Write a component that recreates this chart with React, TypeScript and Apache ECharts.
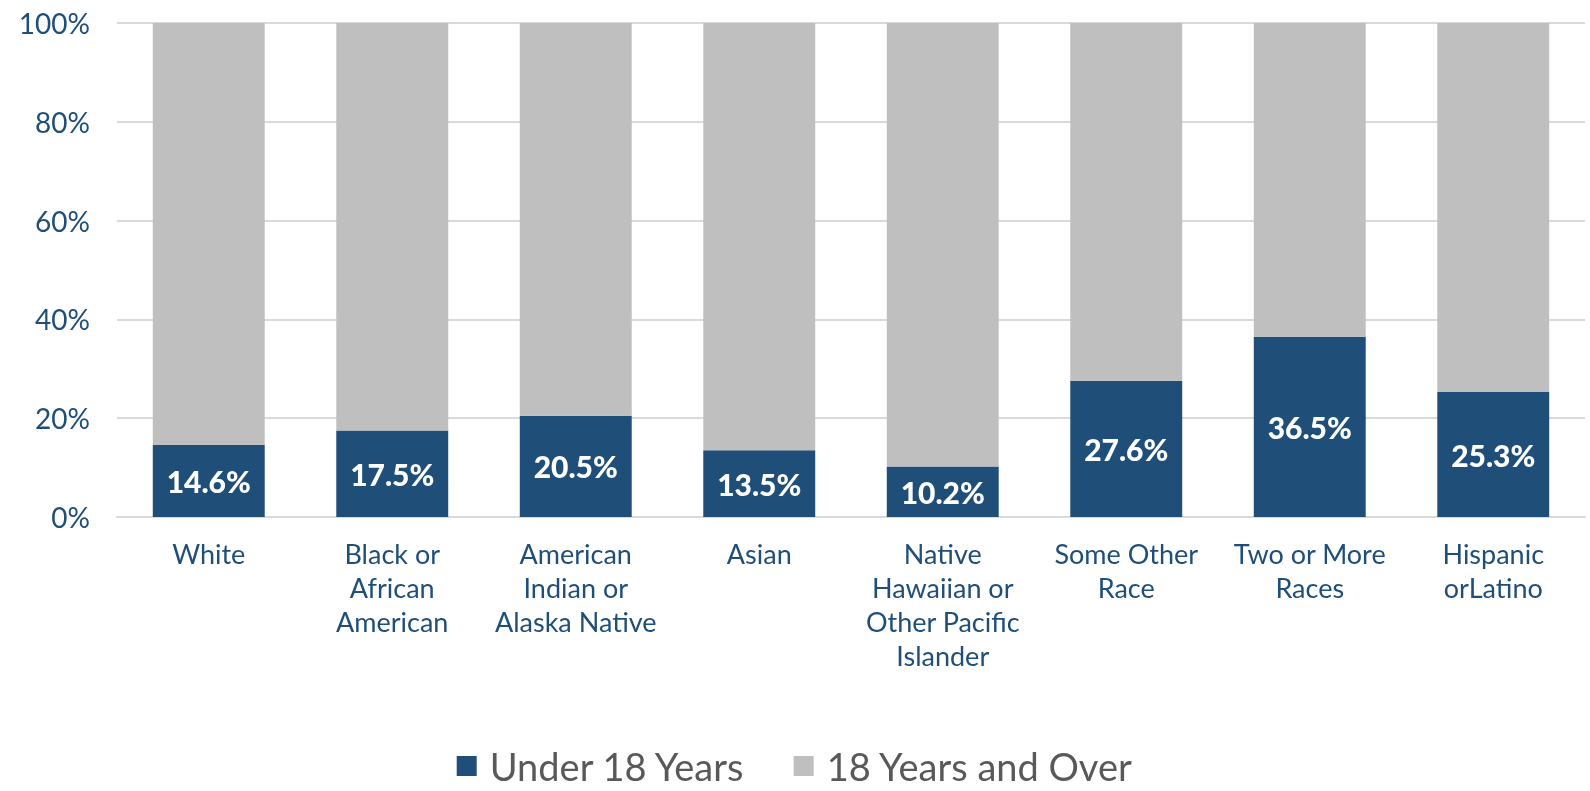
import React, { useEffect, useRef } from "react";
import * as echarts from "echarts";

const categories = [
  "White",
  "Black or\nAfrican\nAmerican",
  "American\nIndian or\nAlaska Native",
  "Asian",
  "Native\nHawaiian or\nOther Pacific\nIslander",
  "Some Other\nRace",
  "Two or More\nRaces",
  "Hispanic\norLatino",
];
const under18 = [14.6, 17.5, 20.5, 13.5, 10.2, 27.6, 36.5, 25.3];
const over18 = [85.4, 82.5, 79.5, 86.5, 89.8, 72.4, 63.5, 74.7];
const seriesNames = ["Under 18 Years", "18 Years and Over"];

const FONT = "Lato, 'Open Sans', sans-serif";

export default function App() {
  const ref = useRef<HTMLDivElement>(null);
  useEffect(() => {
    if (!ref.current) return;
    const chart = echarts.init(ref.current, undefined, { renderer: "svg" });
    chart.setOption({
      animation: false,
      textStyle: { fontFamily: FONT },
      grid: { left: 117, right: 5, top: 23, bottom: 274, containLabel: false },
      legend: {
        top: 747,
        left: "center",
        itemWidth: 20,
        itemHeight: 20,
        itemGap: 48,
        icon: "rect",
        padding: 0,
        textStyle: {
          fontSize: 38,
          lineHeight: 38,
          color: "#595959",
          fontFamily: FONT,
          padding: [0, 0, 0, 8],
        },
        data: seriesNames,
      },
      xAxis: {
        type: "category",
        data: categories,
        axisLine: { lineStyle: { color: "#D9D9D9", width: 2 } },
        axisTick: { show: false },
        axisLabel: {
          interval: 0,
          color: "#1F4E79",
          fontSize: 27,
          lineHeight: 34,
          margin: 19,
          fontFamily: FONT,
        },
      },
      yAxis: {
        type: "value",
        min: 0,
        max: 100,
        interval: 20,
        axisLine: { show: false },
        axisTick: { show: false },
        splitLine: { lineStyle: { color: "#D9D9D9", width: 2 } },
        axisLabel: {
          formatter: "{value}%",
          color: "#1F4E79",
          fontSize: 28,
          margin: 27,
          fontFamily: FONT,
        },
      },
      series: [
        {
          name: seriesNames[0],
          type: "bar",
          stack: "total",
          barWidth: "61%",
          data: under18,
          itemStyle: { color: "#1F4E79" },
          label: {
            show: true,
            position: "inside",
            formatter: (p: any) => p.value.toFixed(1) + "%",
            color: "#FFFFFF",
            fontWeight: 900,
            fontSize: 30,
            fontFamily: FONT,
          },
        },
        {
          name: seriesNames[1],
          type: "bar",
          stack: "total",
          barWidth: "61%",
          data: over18,
          itemStyle: { color: "#BFBFBF" },
        },
      ],
    });
    return () => chart.dispose();
  }, []);
  return (
    <div
      ref={ref}
      style={{ position: "fixed", left: 0, top: 0, width: 1590, height: 791 }}
    />
  );
}
